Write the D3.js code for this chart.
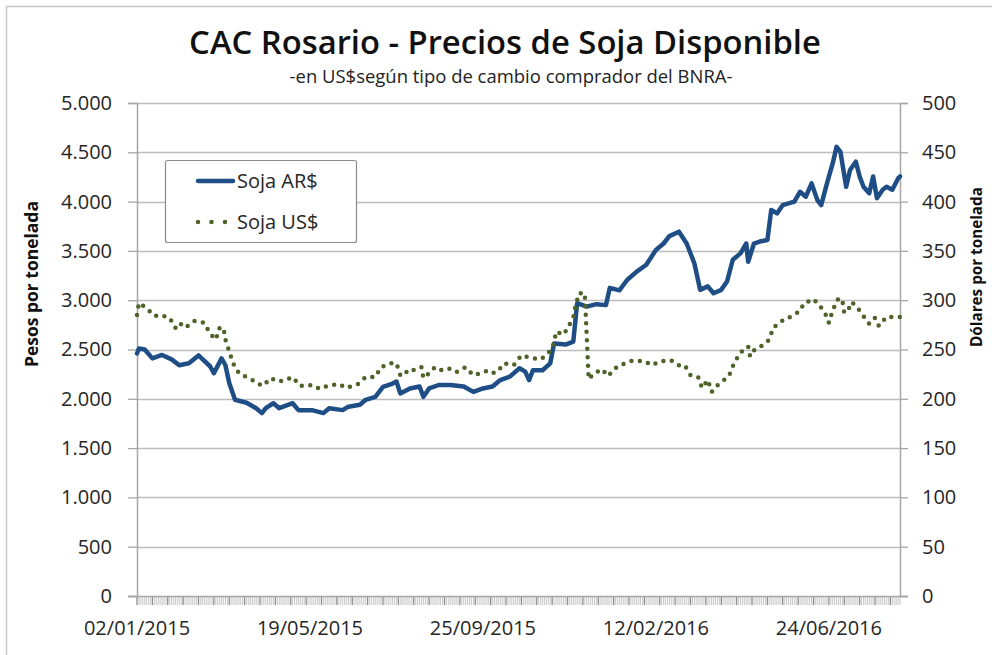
<!DOCTYPE html>
<html>
<head>
<meta charset="utf-8">
<script src="https://cdn.jsdelivr.net/npm/d3@7"></script>
<style>
  body { margin: 0; background: #fff; }
  text { font-family: "Open Sans", sans-serif; fill: #262626; }
</style>
</head>
<body>
<svg id="chart" width="992" height="655"></svg>
<script>
// trading-day number (category index, 0 = 02/01/2015) and readings
const arDays = [0, 1, 4, 8, 13, 18, 22, 27, 32, 38, 40, 44, 46, 48, 51, 57, 62, 65, 67, 71, 74, 81, 84, 91, 97, 100,
  107, 110, 116, 119, 124, 128, 133, 135, 137, 142, 147, 149, 152, 157, 163, 170, 175, 180, 185, 189, 194, 199, 202,
  204, 206, 211, 215, 217, 223, 227, 229, 234, 239, 244, 246, 251, 255, 260, 265, 270, 274, 277, 282, 286, 290, 293,
  297, 300, 304, 307, 310, 314, 317, 318, 321, 324, 328, 330, 333, 336, 342, 345, 348, 351, 354, 356, 359, 362, 364,
  366, 369, 371, 374, 376, 378, 381, 383, 385, 388, 390, 393, 396, 397];
const sojaAR = [2460, 2510, 2500, 2410, 2445, 2400, 2340, 2360, 2440, 2330, 2260, 2410, 2340, 2160, 1990, 1960, 1905,
  1855, 1905, 1955, 1905, 1955, 1885, 1885, 1855, 1905, 1885, 1920, 1940, 1990, 2020, 2120, 2155, 2175, 2055, 2105,
  2125, 2020, 2105, 2140, 2140, 2125, 2070, 2105, 2125, 2190, 2225, 2310, 2275, 2190, 2290, 2290, 2360, 2560, 2550,
  2580, 2970, 2935, 2960, 2950, 3125, 3100, 3205, 3290, 3360, 3510, 3575, 3650, 3695, 3575, 3375, 3105, 3140, 3070,
  3105, 3190, 3410, 3475, 3575, 3390, 3575, 3595, 3610, 3915, 3880, 3965, 4000, 4100, 4050, 4185, 4015, 3965, 4185,
  4390, 4555, 4505, 4150, 4320, 4405, 4255, 4150, 4085, 4255, 4035, 4120, 4150, 4120, 4235, 4255];

const usDays = [0, 1, 5, 9, 12, 17, 20, 22, 25, 30, 35, 38, 41, 43, 45, 46, 48, 50, 53, 58, 62, 65, 70, 72, 76, 81, 85,
  91, 95, 99, 105, 109, 112, 115, 119, 124, 127, 132, 135, 137, 139, 142, 145, 148, 149, 152, 155, 158, 162, 166, 171,
  175, 179, 183, 186, 189, 191, 196, 200, 204, 210, 214, 217, 218, 222, 227, 228, 230, 233, 235, 238, 242, 245, 250,
  254, 258, 264, 268, 272, 278, 282, 285, 288, 292, 294, 297, 299, 301, 304, 308, 310, 313, 316, 318, 319, 321, 326,
  329, 331, 333, 337, 340, 345, 347, 350, 352, 355, 358, 360, 362, 365, 367, 368, 371, 372, 375, 378, 381, 384, 386,
  390, 395, 397];
const sojaUS = [285, 297, 292, 284, 285, 282, 272, 277, 272, 279, 277, 266, 260, 272, 272, 260, 248, 236, 226, 221, 217,
  213, 221, 218, 218, 222, 213, 214, 210, 213, 215, 211, 213, 215, 222, 222, 232, 236, 236, 224, 228, 226, 231, 232,
  221, 226, 232, 229, 231, 227, 232, 224, 226, 229, 226, 231, 236, 234, 244, 242, 240, 246, 256, 268, 265, 282, 293,
  307, 307, 220, 226, 230, 223, 233, 236, 239, 238, 234, 238, 239, 234, 234, 224, 222, 211, 219, 207, 212, 217, 223,
  233, 244, 251, 253, 243, 249, 255, 260, 272, 275, 281, 283, 289, 297, 299, 301, 295, 287, 277, 290, 302, 300, 287,
  293, 298, 292, 284, 276, 282, 274, 283, 283, 283];

const lastDay = 397;
const dateLabels = ["02/01/2015", "19/05/2015", "25/09/2015", "12/02/2016", "24/06/2016"];
const labelEvery = 90;
const pesosTicks = d3.range(0, 5001, 500);
const dolarTicks = d3.range(0, 501, 50);

const svg = d3.select("#chart");
const plotL = 137, plotR = 900, plotT = 103, plotB = 596;

const x = d3.scaleLinear().domain([0, lastDay]).range([plotL, plotR]);
const yL = d3.scaleLinear().domain([0, 5000]).range([plotB, plotT]);
const yR = d3.scaleLinear().domain([0, 500]).range([plotB, plotT]);
const fmt = d3.formatLocale({ decimal: ",", thousands: ".", grouping: [3], currency: ["$", ""] }).format(",.0f");

// shrink/grow a text's font so it takes the given width
function fitWidth(sel, w) {
  const fs = parseFloat(sel.style("font-size"));
  sel.style("font-size", (fs * w / sel.node().getComputedTextLength()) + "px");
}

// chart frame (only left/top edges show)
svg.append("path").attr("d", "M6.5,655V6.5H992").attr("fill", "none").attr("stroke", "#c6c6c6").attr("stroke-width", 1.5);

// titles
const t1 = svg.append("text").attr("x", 505).attr("y", 54).attr("text-anchor", "middle")
  .style("font-size", "30px").style("font-weight", 600).style("fill", "#111")
  .text("CAC Rosario - Precios de Soja Disponible");
fitWidth(t1, 632);
const t2 = svg.append("text").attr("x", 511).attr("y", 83).attr("text-anchor", "middle")
  .style("font-size", "16px").style("fill", "#222")
  .text("-en US$según tipo de cambio comprador del BNRA-");
fitWidth(t2, 443);

// gridlines
svg.append("g").selectAll("line").data(pesosTicks.slice(1)).join("line")
  .attr("x1", plotL).attr("x2", plotR)
  .attr("y1", d => Math.round(yL(d)) + 0.5).attr("y2", d => Math.round(yL(d)) + 0.5)
  .attr("stroke", "#bdbdbd").attr("stroke-width", 1.3);

// category tick band
svg.append("g").selectAll("line").data(d3.range(0, lastDay + 1)).join("line")
  .attr("x1", d => x(d)).attr("x2", d => x(d)).attr("y1", plotB).attr("y2", plotB + 9)
  .attr("stroke", d => d % 8 === 0 ? "#8a8a8a" : "#cfcfcf").attr("stroke-width", d => d % 8 === 0 ? 1.3 : 1.2);

// axes
const axL = svg.append("g").attr("transform", `translate(${plotL},0)`)
  .call(d3.axisLeft(yL).tickValues(pesosTicks).tickFormat(fmt).tickSize(9).tickPadding(16));
const axR = svg.append("g").attr("transform", `translate(${plotR},0)`)
  .call(d3.axisRight(yR).tickValues(dolarTicks).tickSize(8).tickPadding(14));
[axL, axR].forEach(a => {
  a.select(".domain").attr("stroke", "#a6a6a6").attr("stroke-width", 1.5);
  a.selectAll(".tick line").attr("stroke", "#a6a6a6").attr("stroke-width", 1.3);
  a.selectAll(".tick text").style("font-size", "20px").style("fill", "#262626");
});
svg.append("line").attr("x1", plotL - 9).attr("x2", plotR + 8).attr("y1", plotB + 0.5).attr("y2", plotB + 0.5)
  .attr("stroke", "#a6a6a6").attr("stroke-width", 1.5);

// date labels
svg.append("g").selectAll("text").data(dateLabels).join("text")
  .attr("x", (d, i) => x(i * labelEvery)).attr("y", 635).attr("text-anchor", "middle")
  .style("font-size", "20px").text(d => d);

// axis titles
const at1 = svg.append("text").attr("transform", "translate(38,284) rotate(-90)").attr("text-anchor", "middle")
  .style("font-size", "15px").style("font-weight", 700).style("fill", "#111").text("Pesos por tonelada");
fitWidth(at1, 166);
const at2 = svg.append("text").attr("transform", "translate(982,267) rotate(-90)").attr("text-anchor", "middle")
  .style("font-size", "15px").style("font-weight", 700).style("fill", "#111").text("Dólares por tonelada");
fitWidth(at2, 160);

// series
const ar = arDays.map((d, i) => [d, sojaAR[i]]);
const us = usDays.map((d, i) => [d, sojaUS[i]]);
svg.append("path").datum(ar)
  .attr("d", d3.line().x(d => x(d[0])).y(d => yL(d[1])))
  .attr("fill", "none").attr("stroke", "#1f4e86").attr("stroke-width", 4.5)
  .attr("stroke-linejoin", "round").attr("stroke-linecap", "round");
svg.append("path").datum(us)
  .attr("d", d3.line().x(d => x(d[0])).y(d => yR(d[1])))
  .attr("fill", "none").attr("stroke", "#4f6228").attr("stroke-width", 4.5)
  .attr("stroke-dasharray", "0 8.5").attr("stroke-linecap", "round");

// legend
const lg = svg.append("g");
lg.append("rect").attr("x", 165.5).attr("y", 160.5).attr("width", 191).attr("height", 82).attr("rx", 2)
  .attr("fill", "#fff").attr("stroke", "#8c8c8c").attr("stroke-width", 1.2);
lg.append("line").attr("x1", 198).attr("x2", 233).attr("y1", 181).attr("y2", 181)
  .attr("stroke", "#1f4e86").attr("stroke-width", 4.5).attr("stroke-linecap", "round");
lg.append("line").attr("x1", 198).attr("x2", 226).attr("y1", 222).attr("y2", 222)
  .attr("stroke", "#4f6228").attr("stroke-width", 4.5).attr("stroke-dasharray", "0 13.5").attr("stroke-linecap", "round");
lg.append("text").attr("x", 237).attr("y", 188).style("font-size", "20px").text("Soja AR$");
lg.append("text").attr("x", 237).attr("y", 229).style("font-size", "20px").text("Soja US$");
</script>
</body>
</html>
